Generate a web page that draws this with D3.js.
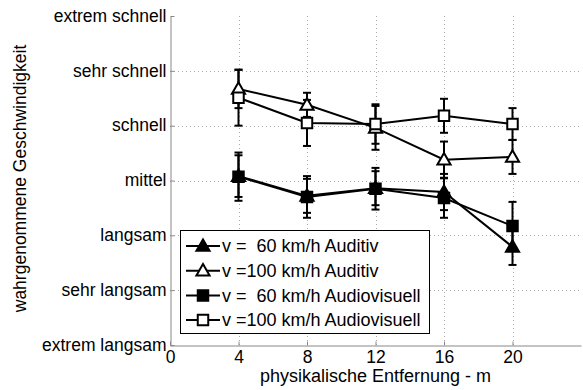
<!DOCTYPE html>
<html>
<head>
<meta charset="utf-8">
<script src="https://cdn.jsdelivr.net/npm/d3@7"></script>
<style>
  body { margin: 0; background: #fff; }
  svg { display: block; font-family: "Liberation Sans", Arial, sans-serif; }
</style>
</head>
<body>
<svg id="chart" width="583" height="390"></svg>
<script>
// Daten
const entfernung = [4, 8, 12, 16, 20];
const yLabels = ["extrem langsam", "sehr langsam", "langsam", "mittel", "schnell", "sehr schnell", "extrem schnell"];
const xTicks = [0, 4, 8, 12, 16, 20];

const auditiv60 = [4.08, 3.72, 3.86, 3.79, 2.79];
const auditiv60Err = [0.38, 0.31, 0.31, 0.33, 0.33];
const auditiv100 = [5.67, 5.38, 4.96, 4.38, 4.43];
const auditiv100Err = [0.35, 0.22, 0.40, 0.33, 0.31];
const av60 = [4.07, 3.70, 3.85, 3.68, 3.17];
const av60Err = [0.44, 0.38, 0.38, 0.36, 0.44];
const av100 = [5.51, 5.05, 5.03, 5.18, 5.03];
const av100Err = [0.51, 0.42, 0.36, 0.31, 0.29];

const seriesNames = ["v =  60 km/h Auditiv", "v =100 km/h Auditiv", "v =  60 km/h Audiovisuell", "v =100 km/h Audiovisuell"];

const series = [
    { name: seriesNames[0], values: auditiv60, err: auditiv60Err, marker: "triangle", fill: "#000" },
    { name: seriesNames[1], values: auditiv100, err: auditiv100Err, marker: "triangle", fill: "#fff" },
    { name: seriesNames[2], values: av60, err: av60Err, marker: "square", fill: "#000" },
    { name: seriesNames[3], values: av100, err: av100Err, marker: "square", fill: "#fff" }
];

const svg = d3.select("#chart");
const margin = { left: 170, right: 2, top: 16, bottom: 45 };
const width = 583 - margin.left - margin.right;
const height = 390 - margin.top - margin.bottom;

const x = d3.scaleLinear().domain([0, 24]).range([margin.left, margin.left + width]);
const y = d3.scaleLinear().domain([1, 7]).range([margin.top + height, margin.top]);

// Gitterlinien (gepunktet)
const grid = svg.append("g").attr("stroke", "#aaa").attr("stroke-width", 1).attr("stroke-dasharray", "1,3");
grid.selectAll(".gx").data(xTicks.slice(1)).enter().append("line")
    .attr("x1", d => Math.round(x(d)) + 0.5).attr("x2", d => Math.round(x(d)) + 0.5)
    .attr("y1", y(7)).attr("y2", y(1));
grid.selectAll(".gy").data(d3.range(2, 7)).enter().append("line")
    .attr("x1", x(0)).attr("x2", x(24))
    .attr("y1", d => Math.round(y(d)) + 0.5).attr("y2", d => Math.round(y(d)) + 0.5);

// Achsen
const xAxis = svg.append("g")
    .attr("transform", `translate(0,${Math.round(y(1)) + 0.5})`)
    .call(d3.axisBottom(x).tickValues(xTicks).tickSize(-4).tickSizeOuter(0).tickPadding(7));
const yAxis = svg.append("g")
    .attr("transform", `translate(${Math.round(x(0)) + 0.5},0)`)
    .call(d3.axisLeft(y).tickValues(d3.range(1, 8)).tickFormat(d => yLabels[d - 1]).tickSize(-4).tickSizeOuter(0).tickPadding(4));
[xAxis, yAxis].forEach(a => {
    a.select(".domain").attr("stroke", "#888");
    a.selectAll(".tick line").attr("stroke", "#888");
    a.selectAll("text").attr("font-size", 17.5).attr("fill", "#000").attr("font-family", "Liberation Sans, Arial, sans-serif");
});
xAxis.selectAll("text").attr("dy", "0.6em");
yAxis.selectAll("text").attr("dy", "0.3em");

// Achsentitel
svg.append("text")
    .attr("x", x(12)).attr("y", 382)
    .attr("text-anchor", "middle").attr("font-size", 18)
    .text("physikalische Entfernung - m");
svg.append("text")
    .attr("transform", `translate(26,${(y(1) + y(7)) / 2 - 2}) rotate(-90)`)
    .attr("text-anchor", "middle").attr("font-size", 17.5)
    .text("wahrgenommene Geschwindigkeit");

const triangle = d3.symbol().type(d3.symbolTriangle).size(75);
const square = d3.symbol().type(d3.symbolSquare).size(110);

function drawMarker(g, s, cx, cy) {
    g.append("path")
        .attr("d", s.marker === "triangle" ? triangle() : square())
        .attr("transform", `translate(${cx},${cy + (s.marker === "triangle" ? 1 : 0)})`)
        .attr("fill", s.fill).attr("stroke", "#000").attr("stroke-width", 2);
}

const line = d3.line().x(d => x(d[0])).y(d => y(d[1]));

// Linien und Fehlerbalken
series.forEach(s => {
    const g = svg.append("g");
    const pts = entfernung.map((e, i) => [e, s.values[i], s.err[i]]);
    g.append("path").datum(pts).attr("d", line)
        .attr("fill", "none").attr("stroke", "#000").attr("stroke-width", 2);
    pts.forEach(p => {
        const cx = x(p[0]);
        g.append("line").attr("x1", cx).attr("x2", cx)
            .attr("y1", y(p[1] - p[2])).attr("y2", y(p[1] + p[2]))
            .attr("stroke", "#000").attr("stroke-width", 2);
        [p[1] - p[2], p[1] + p[2]].forEach(v => {
            g.append("line").attr("x1", cx - 4).attr("x2", cx + 4)
                .attr("y1", y(v)).attr("y2", y(v))
                .attr("stroke", "#000").attr("stroke-width", 2);
        });
    });
});
series.forEach(s => {
    const g = svg.append("g");
    entfernung.forEach((e, i) => drawMarker(g, s, x(e), y(s.values[i])));
});

// Legende
const legend = svg.append("g");
legend.append("rect")
    .attr("x", 180.5).attr("y", 230.5).attr("width", 249).attr("height", 103)
    .attr("fill", "#fff").attr("stroke", "#000").attr("stroke-width", 1);
series.forEach((s, i) => {
    const ly = 246 + i * 24.7;
    legend.append("line").attr("x1", 186).attr("x2", 220).attr("y1", ly).attr("y2", ly)
        .attr("stroke", "#000").attr("stroke-width", 2);
    drawMarker(legend, s, 203, ly);
    legend.append("text")
        .attr("x", 222).attr("y", ly).attr("dy", "0.35em")
        .attr("font-size", 18).style("white-space", "pre")
        .text(s.name);
});
</script>
</body>
</html>
